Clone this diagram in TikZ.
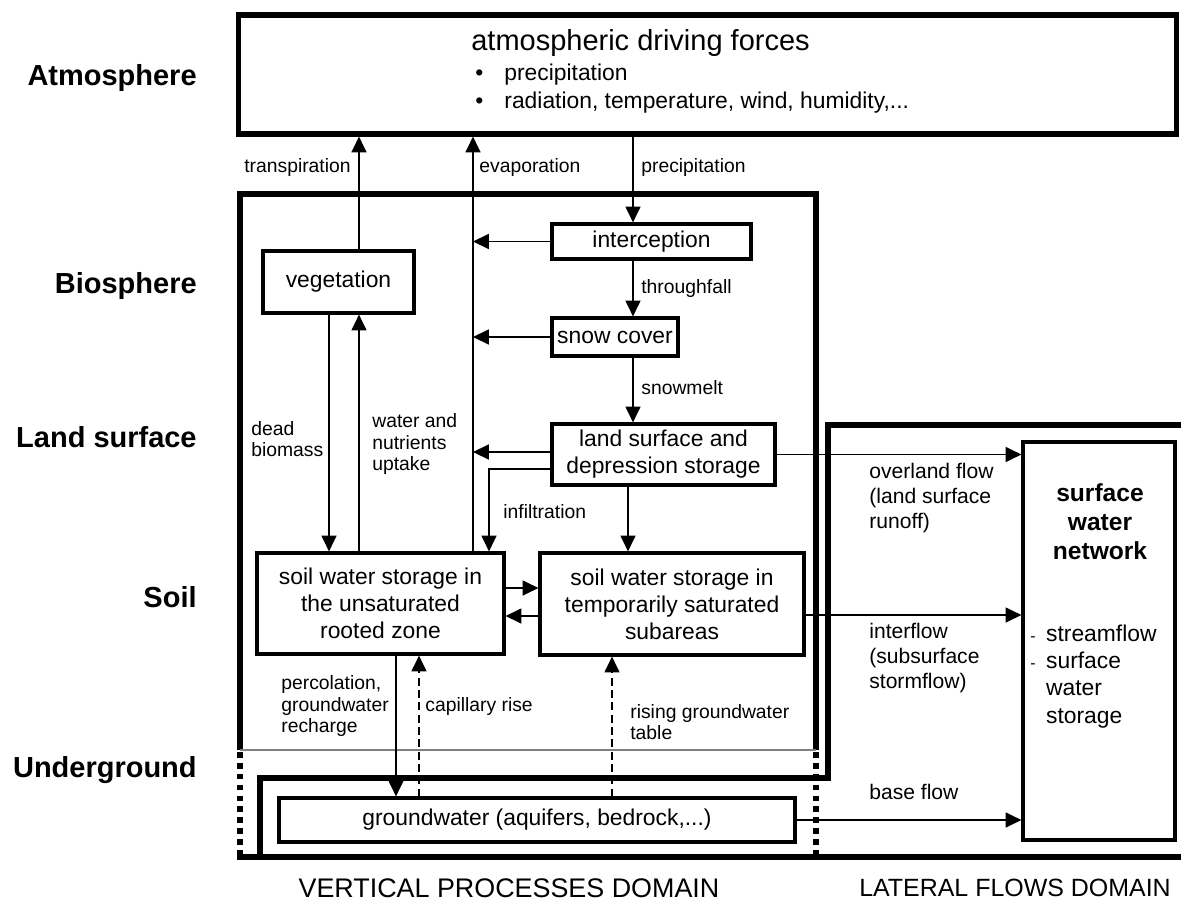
\documentclass[tikz,border=0pt]{standalone}
\usepackage{fontspec}
\setmainfont{Liberation Sans}
\usetikzlibrary{arrows.meta,calc}
\begin{document}
\begin{tikzpicture}[x=0.02cm,y=-0.02cm,
  conn/.style={line width=0.9pt},
  arr/.style={conn,-{Triangle[length=9pt,width=8.5pt]}},
  darr/.style={arr,dash pattern=on 4.5pt off 2.5pt},
  box/.style={draw,line width=1.8pt,inner sep=0pt,align=center,font=\fontsize{13}{15.4}\selectfont},
  outline/.style={line width=3.4pt,line join=miter},
  dottedout/.style={line width=3.4pt,dash pattern=on 3.2pt off 3pt},
  lbl/.style={font=\fontsize{11}{12.4}\selectfont,align=left,inner sep=0pt},
  rlbl/.style={font=\fontsize{12}{14.2}\selectfont,align=left,inner sep=0pt},
  layer/.style={font=\bfseries\fontsize{16.5}{19}\selectfont,anchor=base east,inner sep=0pt},
  domcap/.style={inner sep=0pt}]
\useasboundingbox (0,0) rectangle (1181,910);

% layer headings
\node[layer] (hA) at (197,85) {Atmosphere};
\node[layer] (hB) at (197,293) {Biosphere};
\node[layer] (hL) at (197,447) {Land surface};
\node[layer] (hS) at (197,607) {Soil};
\node[layer] (hU) at (197,777) {Underground};

% domain outlines
\draw[outline] (240,750) -- (240,194) -- (816,194) -- (816,750);
\draw[gray,line width=0.6pt] (240,750) -- (816,750);
\draw[dottedout] (240,752) -- (240,857);
\draw[dottedout] (816,752) -- (816,854);
\draw[outline] (1185,425) -- (828,425) -- (828,778) -- (260,778) -- (260,857);
\draw[outline] (237,857) -- (1185,857);

% atmosphere box
\node[box,line width=2.9pt,minimum width=18.78cm,minimum height=2.38cm] (atm) at (707.5,74.5) {};
\node[anchor=west,inner sep=0pt,font=\fontsize{16.5}{19}\selectfont] (atmT) at (471,43) {atmospheric driving forces};
\node[anchor=west,inner sep=0pt,font=\fontsize{13}{16}\selectfont,align=left] (atmL) at (475,89)
 {\begin{tabular}{@{}l@{\hspace{12pt}}l@{}}\textbullet & precipitation\\[0pt] \textbullet & radiation, temperature, wind, humidity,...\end{tabular}};

% process boxes
\node[box,minimum width=3.98cm,minimum height=0.70cm] (inter) at (651.5,241.5) {interception};
\node[box,minimum width=3.02cm,minimum height=1.24cm] (veg) at (338.5,282) {vegetation};
\node[box,minimum width=2.52cm,minimum height=0.76cm] (snow) at (615,337) {snow cover};
\node[box,minimum width=4.46cm,minimum height=1.22cm] (land) at (663.5,454.5) {land surface and\\depression storage};
\node[box,minimum width=4.94cm,minimum height=2.02cm] (unsat) at (380.5,603.5) {soil water storage in\\the unsaturated\\rooted zone};
\node[box,minimum width=5.28cm,minimum height=2.04cm] (sat) at (672,604) {soil water storage in\\temporarily saturated\\subareas};
\node[box,minimum width=10.32cm,minimum height=0.88cm] (gw) at (537,820) {groundwater (aquifers, bedrock,...)};
\node[box,minimum width=3.04cm,minimum height=7.96cm] (swn) at (1099,641) {};
\node[inner sep=0pt,align=center,font=\bfseries\fontsize{14}{16.5}\selectfont] (swnT) at (1100,522) {surface\\water\\network};
\node[anchor=west,inner sep=0pt,font=\fontsize{13}{15.4}\selectfont] (swnL) at (1030,677)
 {\begin{tabular}{@{}l@{\hspace{6pt}}l@{}}{\fontsize{9}{10}\selectfont -} & streamflow\\ {\fontsize{9}{10}\selectfont -} & surface\\ & water\\ & storage\end{tabular}};

% helper coordinates
\coordinate (xT) at (359,0);
\coordinate (xE) at (473,0);
\coordinate (xP) at (633,0);
\coordinate (xL) at (628,0);
\coordinate (xD) at (329,0);
\coordinate (xI) at (489,0);
\coordinate (xPe) at (396,0);
\coordinate (xC) at (419,0);
\coordinate (xR) at (612,0);
\coordinate (yLs) at (0,452);
\coordinate (yInf) at (0,469);
\coordinate (yA) at (0,588);
\coordinate (yB) at (0,616);
\coordinate (yIf) at (0,615);

% connectors
\draw[arr] (xT |- veg.north) -- (xT |- atm.south);
\draw[arr] (xE |- unsat.north) -- (xE |- atm.south);
\draw[arr] (xP |- atm.south) -- (xP |- inter.north);
\draw[arr] (xP |- inter.south) -- (xP |- snow.north);
\draw[arr] (xP |- snow.south) -- (xP |- land.north);
\draw[arr] (inter.west) -- (inter.west -| xE);
\draw[arr] (snow.west) -- (snow.west -| xE);
\draw[arr] (land.west |- yLs) -- (xE |- yLs);
\draw[arr] (land.west |- yInf) -| (xI |- unsat.north);
\draw[arr] (xL |- land.south) -- (xL |- sat.north);
\draw[arr] (xD |- veg.south) -- (xD |- unsat.north);
\draw[arr] (xT |- unsat.north) -- (xT |- veg.south);
\draw[arr] (unsat.east |- yA) -- (sat.west |- yA);
\draw[arr] (sat.west |- yB) -- (unsat.east |- yB);
\draw[arr] (xPe |- unsat.south) -- (xPe |- gw.north);
\draw[darr] (xC |- gw.north) -- (xC |- unsat.south);
\draw[darr] (xR |- gw.north) -- (xR |- sat.south);
\draw[arr] (land.east) -- (land.east -| swn.west);
\draw[arr] (sat.east |- yIf) -- (swn.west |- yIf);
\draw[arr] (gw.east) -- (gw.east -| swn.west);

% labels
\node[lbl,anchor=east] (lT) at (351,167) {transpiration};
\node[lbl,anchor=west] (lE) at (479,167) {evaporation};
\node[lbl,anchor=west] (lP) at (641,167) {precipitation};
\node[lbl,anchor=west] (lTh) at (641,288) {throughfall};
\node[lbl,anchor=west] (lSm) at (641,388) {snowmelt};
\node[lbl,anchor=west] (lDb) at (251,439) {dead\\biomass};
\node[lbl,anchor=west] (lUp) at (372,444) {water and\\nutrients\\uptake};
\node[lbl,anchor=west] (lIn) at (503,512) {infiltration};
\node[lbl,anchor=west] (lPc) at (281,706) {percolation,\\groundwater\\recharge};
\node[lbl,anchor=west] (lCr) at (425,706) {capillary rise};
\node[lbl,anchor=west] (lRg) at (630,722) {rising groundwater\\table};
\node[rlbl,anchor=west] (lOv) at (869,498) {overland flow\\(land surface\\runoff)};
\node[rlbl,anchor=west] (lIf) at (869,658) {interflow\\(subsurface\\stormflow)};
\node[rlbl,anchor=west] (lBf) at (869,792) {base flow};

% domain captions
\node[domcap,font=\fontsize{15.3}{17}\selectfont] (dV) at (509,888) {VERTICAL PROCESSES DOMAIN};
\node[domcap,font=\fontsize{14.2}{17}\selectfont] (dL) at (1015,888) {LATERAL FLOWS DOMAIN};
\end{tikzpicture}
\end{document}
